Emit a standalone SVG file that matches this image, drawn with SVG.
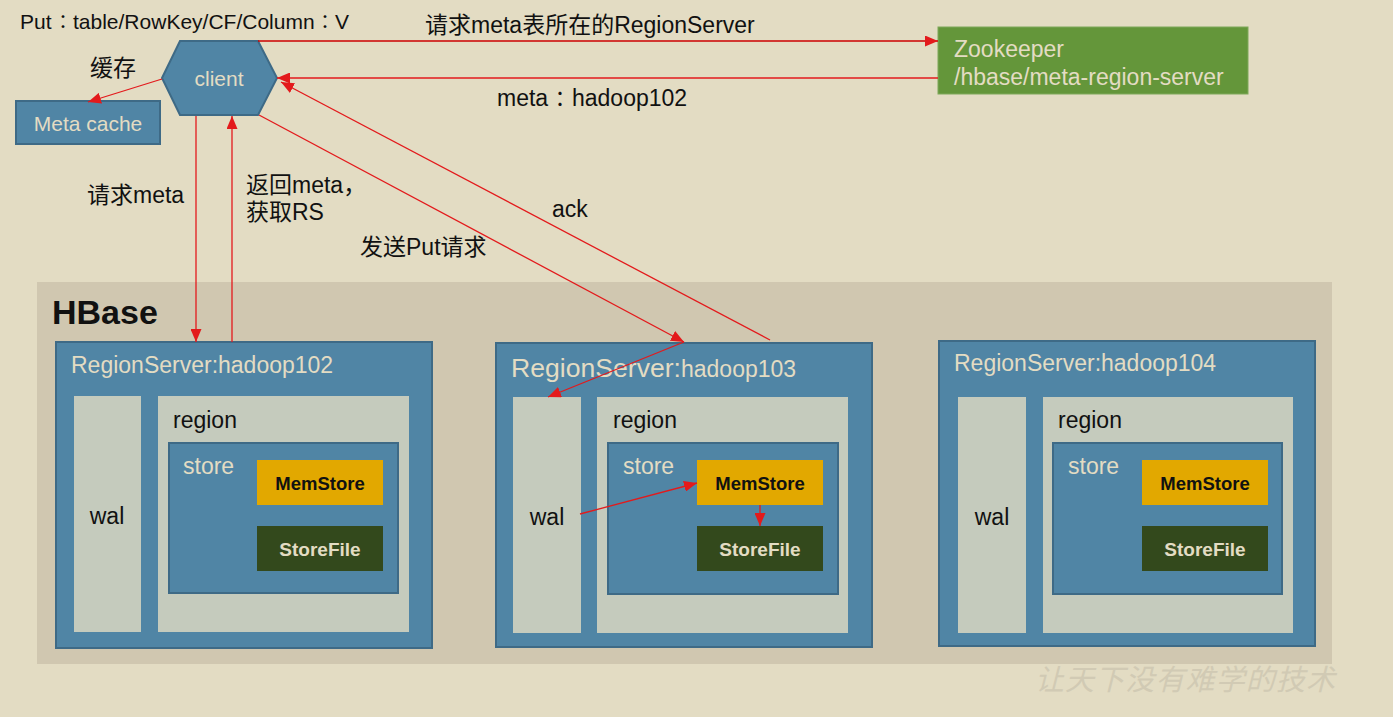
<svg xmlns="http://www.w3.org/2000/svg" width="1393" height="717" viewBox="0 0 1393 717">
<defs>
<style>
.t{font-family:"Liberation Sans","Noto Sans CJK SC",Arial,sans-serif;}
.tc{font-family:"Noto Sans CJK TC",sans-serif;}
.dark{fill:#111;}
.light{fill:#E3DCC3;}
.blue{fill:#5085A5;stroke:#3E6A86;stroke-width:2;}
.pale{fill:#C5CBBD;}
.mem{fill:#E2A800;}
.sf{fill:#33491C;}
.conn{stroke:#E31A1C;stroke-width:1.3;fill:none;marker-end:url(#ah);}
</style>
<marker id="ah" markerUnits="userSpaceOnUse" markerWidth="13" markerHeight="11" refX="13" refY="5.5" orient="auto">
<path d="M0,0 L13,5.5 L0,11 z" fill="#E31A1C"/>
</marker>
</defs>
<rect x="0" y="0" width="1393" height="717" fill="#E3DCC3"/>
<g id="hbase">
<rect x="37" y="282" width="1295" height="382" fill="#D0C7B0"/>
<text class="t dark" x="52" y="324" font-size="34" font-weight="bold">HBase</text>
</g>
<text class="t" x="1035" y="690" font-size="29" font-style="italic" fill="#D1CAB4" textLength="300">让天下没有难学的技术</text>
<text class="t dark" font-size="21" y="29"><tspan x="20">Put</tspan><tspan class="tc" font-size="19" x="53.5">：</tspan><tspan x="73">table/RowKey/CF/Column</tspan><tspan class="tc" font-size="19" x="315.5">：</tspan><tspan x="335">V</tspan></text>
<g id="client">
<polygon class="blue" points="162,78 180,41 258,41 277,78 258,115 180,115"/>
<text class="t light" x="219" y="86" font-size="21" text-anchor="middle">client</text>
</g>
<g id="metacache">
<rect class="blue" x="16" y="101" width="144" height="43"/>
<text class="t light" x="88" y="131" font-size="21" text-anchor="middle">Meta cache</text>
</g>
<g id="zookeeper">
<rect x="938" y="27" width="310" height="67" fill="#64963A" stroke="#7FA85A" stroke-width="1"/>
<text class="t light" x="954" y="57" font-size="23">Zookeeper</text>
<text class="t light" x="954" y="85" font-size="23">/hbase/meta-region-server</text>
</g>
<g id="rs102">
<rect class="blue" x="56" y="342" width="376" height="306"/>
<text class="t light" x="71" y="373" font-size="23">RegionServer:hadoop102</text>
<rect class="pale" x="74" y="396" width="67" height="236"/>
<text class="t dark" x="107" y="524" font-size="23" text-anchor="middle">wal</text>
<rect class="pale" x="158" y="396" width="251" height="236"/>
<text class="t dark" x="173" y="428" font-size="23">region</text>
<rect class="blue" x="169" y="443" width="229" height="150"/>
<text class="t light" x="183" y="474" font-size="23">store</text>
<rect class="mem" x="257" y="460" width="126" height="45"/>
<text class="t dark" x="320" y="490" font-size="18.5" font-weight="bold" text-anchor="middle">MemStore</text>
<rect class="sf" x="257" y="526" width="126" height="45"/>
<text class="t light" x="320" y="556" font-size="19" font-weight="bold" text-anchor="middle">StoreFile</text>
</g>
<g id="rs103">
<rect class="blue" x="496" y="343" width="376" height="304"/>
<text class="t light" x="511" y="377" font-size="26.6">RegionServer:<tspan font-size="23">hadoop103</tspan></text>
<rect class="pale" x="513" y="397" width="68" height="236"/>
<text class="t dark" x="547" y="525" font-size="23" text-anchor="middle">wal</text>
<rect class="pale" x="597" y="397" width="251" height="236"/>
<text class="t dark" x="613" y="428" font-size="23">region</text>
<rect class="blue" x="608" y="443" width="230" height="151"/>
<text class="t light" x="623" y="474" font-size="23">store</text>
<rect class="mem" x="697" y="460" width="126" height="45"/>
<text class="t dark" x="760" y="490" font-size="18.5" font-weight="bold" text-anchor="middle">MemStore</text>
<rect class="sf" x="697" y="526" width="126" height="45"/>
<text class="t light" x="760" y="556" font-size="19" font-weight="bold" text-anchor="middle">StoreFile</text>
</g>
<g id="rs104">
<rect class="blue" x="939" y="341" width="376" height="305"/>
<text class="t light" x="954" y="371" font-size="23">RegionServer:hadoop104</text>
<rect class="pale" x="958" y="397" width="68" height="236"/>
<text class="t dark" x="992" y="525" font-size="23" text-anchor="middle">wal</text>
<rect class="pale" x="1043" y="397" width="250" height="236"/>
<text class="t dark" x="1058" y="428" font-size="23">region</text>
<rect class="blue" x="1053" y="443" width="229" height="151"/>
<text class="t light" x="1068" y="474" font-size="23">store</text>
<rect class="mem" x="1142" y="460" width="126" height="45"/>
<text class="t dark" x="1205" y="490" font-size="18.5" font-weight="bold" text-anchor="middle">MemStore</text>
<rect class="sf" x="1142" y="526" width="126" height="45"/>
<text class="t light" x="1205" y="556" font-size="19" font-weight="bold" text-anchor="middle">StoreFile</text>
</g>
<g id="connectors">
<path class="conn" d="M258,41 L938,41" style="stroke:#CC0000"/>
<path class="conn" d="M938,78 L277,78"/>
<path class="conn" d="M162,79 L88,102"/>
<path class="conn" d="M196,116 L196,342"/>
<path class="conn" d="M232,342 L232,116"/>
<path class="conn" d="M259,115 L684,342"/>
<path class="conn" d="M684,342 L548,397"/>
<path class="conn" d="M770,340 L281,82"/>
<path class="conn" d="M580,514 L697,483"/>
<path class="conn" d="M760,505 L760,526"/>
</g>
<g id="labels">
<text class="t dark" x="90" y="76" font-size="23">缓存</text>
<text class="t dark" x="425" y="33" font-size="23">请求meta表所在的RegionServer</text>
<text class="t dark" font-size="23" y="106"><tspan x="497">meta</tspan><tspan class="tc" font-size="21" x="549.5">：</tspan><tspan x="572">hadoop102</tspan></text>
<text class="t dark" x="87" y="203" font-size="23">请求meta</text>
<text class="t dark" x="246" y="193" font-size="23">返回meta，</text>
<text class="t dark" x="246" y="220" font-size="23">获取RS</text>
<text class="t dark" x="552" y="217" font-size="23">ack</text>
<text class="t dark" x="360" y="255" font-size="23">发送Put请求</text>
</g>
</svg>
